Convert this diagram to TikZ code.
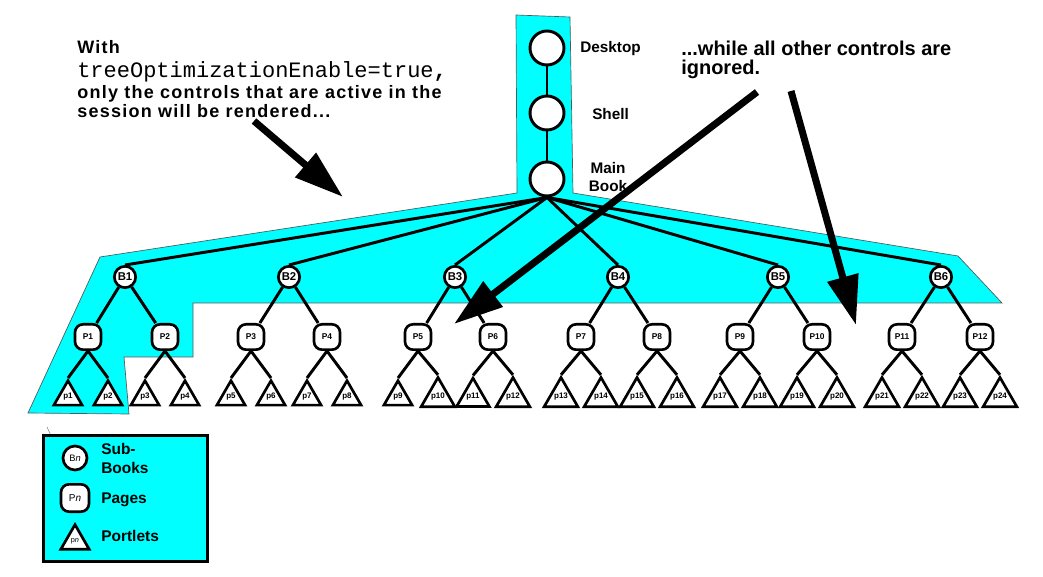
\documentclass[tikz,border=0pt]{standalone}
\usepackage{fontspec}
\setmainfont{Liberation Sans}
\newfontfamily\monofont{Liberation Mono}
\usetikzlibrary{arrows.meta,shapes.geometric}
\definecolor{cy}{RGB}{0,255,255}
\definecolor{outl}{RGB}{80,90,90}
\begin{document}
\begin{tikzpicture}[x=0.75pt,y=-0.75pt,
  bignode/.style={circle,draw,fill=white,line width=2.2pt,minimum size=25.5pt,inner sep=0pt},
  bookn/.style={circle,draw,fill=white,line width=2pt,minimum size=16pt,inner sep=0pt,font=\bfseries\fontsize{8.5}{8.5}\selectfont},
  pagen/.style={rectangle,rounded corners=6pt,draw,fill=white,line width=2pt,minimum width=19.5pt,minimum height=19pt,inner sep=0pt,font=\bfseries\fontsize{6.3}{6.3}\selectfont},
  portn/.style={regular polygon,regular polygon sides=3,draw,fill=white,line width=2pt,minimum size=24.5pt,inner sep=0pt,font=\bfseries\fontsize{6}{6}\selectfont},
  edge/.style={line width=2.2pt},
  bigarrow/.style={line width=5.25pt,-{Triangle[length=37pt,width=23pt]}},
  lbl/.style={font=\bfseries\fontsize{11.5}{13}\selectfont},
  lefttxt/.style={anchor=base west,inner sep=0pt,font=\bfseries\fontsize{13.5}{16}\selectfont\addfontfeature{LetterSpace=7}},
  righttxt/.style={anchor=base west,inner sep=0pt,font=\bfseries\fontsize{15}{18}\selectfont},
  legtxt/.style={anchor=base west,inner sep=0pt,font=\bfseries\fontsize{11.6}{14}\selectfont},
]
\useasboundingbox (0,0) rectangle (1043,577);

% cyan highlight region
\draw[fill=cy,draw=outl,line width=0.5pt]
  (516,15) -- (570,17) -- (573,193) -- (958,256) -- (1002,303) -- (193,303)
  -- (193,357) -- (124,357) -- (129,414) -- (28,413) -- (100,257) -- (517,193) -- cycle;

% top chain
\node[bignode] (D) at (547,48) {};
\node[bignode] (S) at (547,113) {};
\node[bignode] (M) at (547,179) {};
\node[lbl,anchor=west,inner sep=0pt] (Dl) at (580,49) {Desktop};
\node[lbl,anchor=west,inner sep=0pt] (Sl) at (592,114) {Shell};
\node[lbl,align=center,inner sep=0pt] (Ml) at (608,177) {Main\\Book};
\draw[edge] (D) -- (S);
\draw[edge] (S) -- (M);

% sub-books
\foreach \n/\x in {1/125,2/289,3/455,4/618,5/778,6/941}
  \node[bookn] (B\n) at (\x,277) {B\n};

% pages
\foreach \n/\x in {1/88,2/165,3/251,4/327,5/418,6/493,7/581,8/657,9/740,10/817,11/902,12/980}
  \node[pagen] (P\n) at (\x,337) {P\n};

% portlets
\foreach \n/\x in {1/88,2/165,3/251,4/327,5/418,6/493,7/581,8/657,9/740,10/817,11/902,12/980}{
  \pgfmathtruncatemacro\ca{2*\n-1}
  \pgfmathtruncatemacro\cb{2*\n}
  \node[portn] (p\ca) at (\x-20,397) {p\ca};
  \node[portn] (p\cb) at (\x+20,397) {p\cb};
  \draw[edge] (P\n.south) -- (p\ca.corner 1);
  \draw[edge] (P\n.south) -- (p\cb.corner 1);
}

% book edges
\foreach \n in {1,...,6}{
  \pgfmathtruncatemacro\ca{2*\n-1}
  \pgfmathtruncatemacro\cb{2*\n}
  \draw[edge] (M.south) -- (B\n.north);
  \draw[edge] (B\n) -- (P\ca);
  \draw[edge] (B\n) -- (P\cb);
}

% texts
\node[lefttxt] (t1) at (77,54) {With};
\node[anchor=base west,inner sep=0pt,font=\monofont\fontsize{16.5}{18}\selectfont] (t2) at (77,78) {treeOptimizationEnable=true\textbf{,}};
\node[lefttxt] (t3) at (77,99) {only the controls that are active in the};
\node[lefttxt] (t4) at (77,118) {session will be rendered...};
\node[righttxt] (r1) at (681,56) {...while all other controls are};
\node[righttxt] (r2) at (681,75) {ignored.};

% arrows
\coordinate (a1s) at (254,121);
\coordinate (a1e) at (343,197);
\coordinate (a2s) at (757,92);
\coordinate (a2e) at (454,324);
\coordinate (a3s) at (791,91);
\coordinate (a3e) at (856,325);
\draw[bigarrow] (a1s) -- (a1e);
\draw[bigarrow] (a2s) -- (a2e);
\draw[bigarrow] (a3s) -- (a3e);

% legend
\draw[gray,line width=0.4pt] (47,427) -- (54,442);
\node[draw,fill=cy,line width=2.2pt,minimum width=123pt,minimum height=94.5pt,inner sep=0pt,anchor=north west] (leg) at (42,434) {};
\node[bookn,minimum size=18pt,font=\fontsize{7}{7}\selectfont] (LB) at (75,458) {B\textit{n}};
\node[pagen,minimum width=21pt,minimum height=20.5pt,font=\fontsize{7.5}{7.5}\selectfont] (LP) at (75,498) {P\textit{n}};
\node[portn,font=\fontsize{5.5}{5.5}\selectfont] (LT) at (75,541) {p\textit{n}};
\node[legtxt] (L1) at (101,454) {Sub-};
\node[legtxt] (L2) at (101,473) {Books};
\node[legtxt] (L3) at (101,503) {Pages};
\node[legtxt] (L4) at (101,541) {Portlets};
\end{tikzpicture}
\end{document}
